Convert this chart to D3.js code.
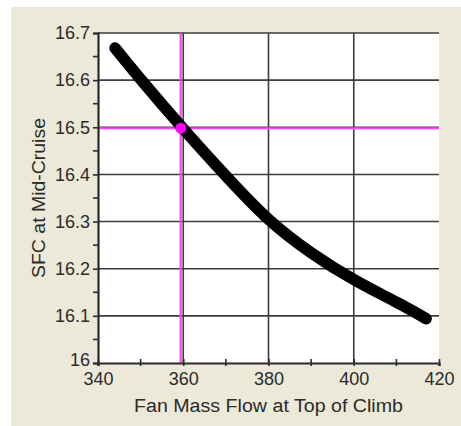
<!DOCTYPE html>
<html>
<head>
<meta charset="utf-8">
<script src="https://cdn.jsdelivr.net/npm/d3@7"></script>
<style>
  html, body { margin: 0; padding: 0; background: #ffffff; }
  svg { display: block; }
  text { font-family: "Liberation Sans", Arial, sans-serif; fill: #2b2b2b; }
</style>
</head>
<body>
<svg id="chart" width="461" height="426"></svg>
<script>
// Fan mass flow at top of climb vs. SFC at mid-cruise
const flowValues = [344, 350, 360, 370, 380, 390, 400, 410, 417];
const sfcValues  = [16.668, 16.602, 16.497, 16.397, 16.305, 16.234, 16.177, 16.129, 16.094];

// Selected design point
const designFlow = [359.4];
const designSfc  = [16.498];

const xTicks = [340, 360, 380, 400, 420];
const xMinorTicks = [350, 370, 390, 410];
const yTicks = [16, 16.1, 16.2, 16.3, 16.4, 16.5, 16.6, 16.7];
const yMinorTicks = [16.05, 16.15, 16.25, 16.35, 16.45, 16.55, 16.65];

const xTitle = "Fan Mass Flow at Top of Climb";
const yTitle = "SFC at Mid-Cruise";

const svg = d3.select("#chart");
const W = 461, H = 426;
const plot = { left: 98, right: 439, top: 33, bottom: 363 };

// panel background
svg.append("rect").attr("x", 11).attr("y", 7).attr("width", W - 11).attr("height", H - 7)
  .attr("fill", "#ece9d8");
svg.append("rect").attr("x", plot.left).attr("y", plot.top)
  .attr("width", plot.right - plot.left).attr("height", plot.bottom - plot.top)
  .attr("fill", "#ffffff");

const x = d3.scaleLinear().domain([340, 420]).range([plot.left, plot.right]);
const y = d3.scaleLinear().domain([16, 16.7]).range([plot.bottom, plot.top]);

const gridColor = "#3c3c3c";

// horizontal grid lines
svg.append("g").selectAll("line").data(yTicks.filter(v => v > 16)).join("line")
  .attr("x1", plot.left).attr("x2", plot.right)
  .attr("y1", d => y(d)).attr("y2", d => y(d))
  .attr("stroke", gridColor).attr("stroke-width", 1.6);

// vertical grid lines
svg.append("g").selectAll("line").data(xTicks.filter(v => v > 340 && v < 420)).join("line")
  .attr("x1", d => x(d)).attr("x2", d => x(d))
  .attr("y1", plot.top).attr("y2", plot.bottom)
  .attr("stroke", gridColor).attr("stroke-width", 1.6);

// design point cross-hair
svg.append("line")
  .attr("x1", x(designFlow[0])).attr("x2", x(designFlow[0]))
  .attr("y1", plot.top).attr("y2", plot.bottom)
  .attr("stroke", "#ff40ff").attr("stroke-width", 2.2);
svg.append("line")
  .attr("x1", plot.left).attr("x2", plot.right)
  .attr("y1", y(designSfc[0])).attr("y2", y(designSfc[0]))
  .attr("stroke", "#ff40ff").attr("stroke-width", 2.2);

// y axis
const yAxis = d3.axisLeft(y).tickValues(yTicks).tickSize(5).tickPadding(3)
  .tickFormat(d => d3.format("~g")(d));
const gy = svg.append("g").attr("transform", `translate(${plot.left},0)`).call(yAxis);
gy.select(".domain").attr("stroke", "#2b2b2b").attr("stroke-width", 2.2);
gy.selectAll(".tick line").attr("stroke", "#2b2b2b").attr("stroke-width", 1.6);
gy.selectAll(".tick text").attr("font-size", 18).attr("fill", "#2b2b2b")
  .attr("font-family", "Liberation Sans, Arial, sans-serif")
  .attr("y", d => d === 16 ? -3 : 0);
svg.append("g").selectAll("line").data(yMinorTicks).join("line")
  .attr("x1", plot.left - 5).attr("x2", plot.left)
  .attr("y1", d => y(d)).attr("y2", d => y(d))
  .attr("stroke", "#2b2b2b").attr("stroke-width", 1.6);

// x axis
const xAxis = d3.axisBottom(x).tickValues(xTicks).tickSize(3).tickPadding(6);
const gx = svg.append("g").attr("transform", `translate(0,${plot.bottom})`).call(xAxis);
gx.select(".domain").attr("stroke", "#2b2b2b").attr("stroke-width", 2.2);
gx.selectAll(".tick line").attr("stroke", "#2b2b2b").attr("stroke-width", 1.6).attr("y1", -4);
gx.selectAll(".tick text").attr("font-size", 18).attr("fill", "#2b2b2b")
  .attr("font-family", "Liberation Sans, Arial, sans-serif");
svg.append("g").selectAll("line").data(xMinorTicks).join("line")
  .attr("x1", d => x(d)).attr("x2", d => x(d))
  .attr("y1", plot.bottom - 4).attr("y2", plot.bottom + 3)
  .attr("stroke", "#2b2b2b").attr("stroke-width", 1.6);

// SFC curve
const pts = flowValues.map((f, i) => [f, sfcValues[i]]);
const line = d3.line().x(d => x(d[0])).y(d => y(d[1])).curve(d3.curveNatural);
svg.append("path").datum(pts).attr("d", line)
  .attr("fill", "none").attr("stroke", "#000000").attr("stroke-width", 11.5)
  .attr("stroke-linecap", "round").attr("stroke-linejoin", "round");

// design point marker
svg.append("circle")
  .attr("cx", x(designFlow[0])).attr("cy", y(designSfc[0])).attr("r", 5.5)
  .attr("fill", "#ff00ff");

// axis titles
svg.append("text").attr("x", (plot.left + plot.right) / 2).attr("y", 412)
  .attr("text-anchor", "middle").attr("font-size", 18)
  .attr("textLength", 269).attr("lengthAdjust", "spacingAndGlyphs")
  .text(xTitle);
svg.append("text")
  .attr("transform", `translate(45,${(plot.top + plot.bottom) / 2}) rotate(-90)`)
  .attr("text-anchor", "middle").attr("font-size", 18)
  .attr("textLength", 160).attr("lengthAdjust", "spacingAndGlyphs")
  .text(yTitle);
</script>
</body>
</html>
